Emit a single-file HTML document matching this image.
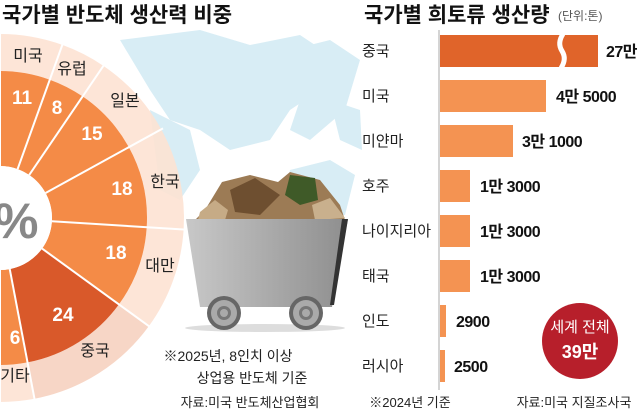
<!DOCTYPE html>
<html><head><meta charset="utf-8"><style>
html,body{margin:0;padding:0;background:#fff;}
body{width:640px;height:412px;overflow:hidden;position:relative;font-family:"Liberation Sans","Noto Sans CJK KR",sans-serif;}
</style></head><body>
<svg id="s" width="640" height="412" viewBox="0 0 640 412" xmlns="http://www.w3.org/2000/svg" style="position:absolute;left:0;top:0">
<g fill="#d8edf5">
<path d="M120 40 L200 30 L250 45 L300 35 L330 55 L320 90 L290 110 L270 140 L230 150 L200 130 L170 120 L150 90 Z"/>
<path d="M250 60 L330 40 L360 60 L345 110 L310 140 L290 130 L300 100 Z"/>
<path d="M290 170 L330 160 L355 175 L345 215 L305 215 L285 195 Z"/>
<path d="M150 110 L190 130 L200 170 L180 200 L160 190 Z"/>
<path d="M330 100 L360 110 L362 150 L340 140 Z"/>
</g>
<g id="donut"></g>
<text x="-6" y="238" font-size="50" font-weight="bold" fill="#888">%</text>
<!-- cart -->
<g>
<path d="M205 210 L222 182 L250 175 L278 182 L290 172 L320 180 L340 205 L345 220 L195 220 Z" fill="#9c7b55"/>
<path d="M230 190 L255 178 L280 195 L260 215 L235 212 Z" fill="#6e4f30"/>
<path d="M290 175 L315 178 L318 200 L300 205 L285 195 Z" fill="#3f5a28"/>
<path d="M312 205 L330 198 L345 218 L315 220 Z" fill="#c9b08d"/>
<path d="M200 212 L215 200 L228 210 L225 220 L198 220 Z" fill="#c6ab86"/>
<defs><linearGradient id="cg" x1="0" x2="1"><stop offset="0" stop-color="#c8c8c8"/><stop offset="1" stop-color="#8e8e8e"/></linearGradient></defs>
<path d="M186 219 L348 219 L332 307 L200 307 Z" fill="url(#cg)"/>
<path d="M342 219 L348 219 L334 305 L330 305 Z" fill="#333"/>
<ellipse cx="265" cy="328" rx="80" ry="4" fill="#ddd"/>
<circle cx="224" cy="313" r="17" fill="#666"/><circle cx="224" cy="313" r="13" fill="#aaa"/><circle cx="224" cy="313" r="7" fill="#777"/><circle cx="224" cy="313" r="4" fill="#aaa"/>
<circle cx="306" cy="313" r="17" fill="#666"/><circle cx="306" cy="313" r="13" fill="#aaa"/><circle cx="306" cy="313" r="7" fill="#777"/><circle cx="306" cy="313" r="4" fill="#aaa"/>
</g>
<g font-size="21" font-weight="bold" fill="#111">
<text x="2" y="22">국가별 반도체 생산력 비중</text>
<text x="364" y="22">국가별 희토류 생산량</text>
</g>
<text x="558" y="20" font-size="12" fill="#555">(단위:톤)</text>
<g font-size="14" fill="#222" text-anchor="middle">
<text x="228" y="361">※2025년, 8인치 이상</text>
<text x="252" y="383">상업용 반도체 기준</text>
<text x="250" y="407" font-size="13">자료:미국 반도체산업협회</text>
<text x="410" y="407" font-size="13">※2024년 기준</text>
<text x="574" y="407" font-size="13">자료:미국 지질조사국</text>
</g>
<line x1="439" y1="30" x2="439" y2="390" stroke="#aaa" stroke-width="1"/>
<g fill="#f49352">
<rect x="440" y="35" width="158" height="32" fill="#e0642a"/>
<rect x="440" y="80" width="106" height="32"/>
<rect x="440" y="125" width="73" height="32"/>
<rect x="440" y="170" width="30" height="32"/>
<rect x="440" y="215" width="30" height="32"/>
<rect x="440" y="260" width="30" height="32"/>
<rect x="440" y="305" width="6" height="32"/>
<rect x="440" y="350" width="5" height="32"/>
</g>
<path d="M563 34 Q557 43 562 51 Q567 59 561 68" stroke="#fff" stroke-width="5" fill="none"/>
<g font-size="15" fill="#222">
<text x="362" y="56">중국</text><text x="362" y="101">미국</text><text x="362" y="146">미얀마</text>
<text x="362" y="191">호주</text><text x="362" y="236">나이지리아</text><text x="362" y="281">태국</text>
<text x="362" y="326">인도</text><text x="362" y="371">러시아</text>
</g>
<g font-size="16" font-weight="bold" fill="#111" letter-spacing="-0.5">
<text x="606" y="57">27만</text><text x="556" y="102">4만 5000</text><text x="522" y="147">3만 1000</text>
<text x="480" y="192">1만 3000</text><text x="480" y="237">1만 3000</text><text x="480" y="282">1만 3000</text>
<text x="456" y="327">2900</text><text x="454" y="372">2500</text>
</g>
<circle cx="580" cy="341" r="38" fill="#b71f2b"/>
<text x="580" y="332" font-size="15" fill="#fff" text-anchor="middle">세계 전체</text>
<text x="580" y="358" font-size="18" font-weight="bold" fill="#fff" text-anchor="middle">39만</text>
</svg>
<script>
var cx=0,cy=218,ri=52,rm=147,ro=184;
var v=[11,8,15,18,18,24,6],names=["미국","유럽","일본","한국","대만","중국","기타"];
var lp=[[28,55],[72,68],[125,100],[165,181],[160,265],[95,350],[15,375]];
var np=[[22,97],[57,107],[92,133],[122,188],[116,252],[63,314],[15,337]];
function pt(r,d){var a=d*Math.PI/180;return [cx+r*Math.sin(a),cy-r*Math.cos(a)];}
function arc(r1,r2,a1,a2){var p1=pt(r2,a1),p2=pt(r2,a2),p3=pt(r1,a2),p4=pt(r1,a1);
return "M"+p1+" A"+r2+" "+r2+" 0 0 1 "+p2+" L"+p3+" A"+r1+" "+r1+" 0 0 0 "+p4+"Z";}
var h="",c=0,lines="";
for(var i=0;i<7;i++){var a1=c*1.8,a2=(c+v[i])*1.8;
h+='<path d="'+arc(rm,ro,a1,a2)+'" fill="'+(i==5?"#f6d2c0":"#fde2d3")+'" fill-opacity="0.9"/>';
h+='<path d="'+arc(ri,rm,a1,a2)+'" fill="'+(i==5?"#d9592a":"#f48b47")+'"/>';
c+=v[i];}
c=0;for(var i=0;i<=7;i++){var a=c*1.8;var p=pt(ri,a),q=pt(ro+2,a);
lines+='<line x1="'+p[0]+'" y1="'+p[1]+'" x2="'+q[0]+'" y2="'+q[1]+'" stroke="#fff" stroke-width="2"/>';if(i<7)c+=v[i];}
h+=lines;
h+='<circle cx="0" cy="218" r="52" fill="#fff"/>';
for(var i=0;i<7;i++){h+='<text x="'+lp[i][0]+'" y="'+(lp[i][1]+6)+'" font-size="16" fill="#222" text-anchor="middle">'+names[i]+'</text>';
h+='<text x="'+np[i][0]+'" y="'+(np[i][1]+7)+'" font-size="19" font-weight="bold" fill="#fff" text-anchor="middle">'+v[i]+'</text>';}
document.getElementById("donut").innerHTML=h;
</script>
</body></html>
